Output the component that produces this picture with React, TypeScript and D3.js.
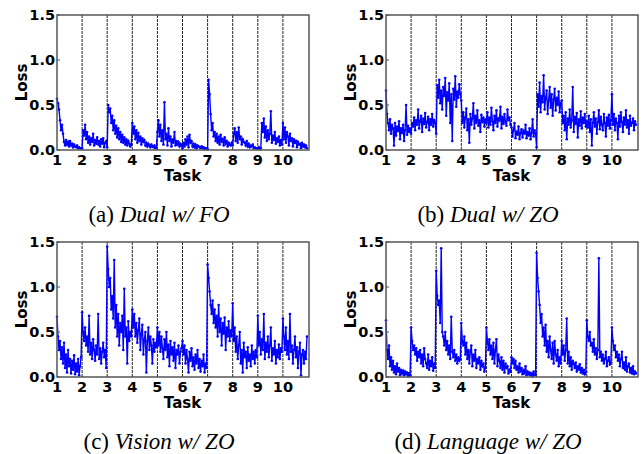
import React from "react";
import * as d3 from "d3";

// loss values, one inner array per task (25 steps each)
const dualFO: number[][] = [
  [.57,.52,.45,.33,.22,.28,.18,.09,.05,.11,.06,.09,.04,.10,.05,.07,.03,.06,.04,.03,.05,.02,.03,.02,.02],
  [.02,.22,.16,.28,.12,.20,.08,.15,.06,.13,.09,.18,.05,.11,.07,.14,.06,.10,.04,.12,.07,.13,.03,.08,.10],
  [.03,.50,.42,.46,.30,.38,.22,.33,.18,.27,.14,.24,.12,.20,.09,.17,.08,.14,.06,.12,.05,.10,.07,.04,.06],
  [.30,.18,.26,.12,.22,.08,.19,.10,.15,.06,.13,.09,.11,.05,.08,.04,.07,.05,.03,.06,.04,.03,.05,.02,.03],
  [.20,.33,.15,.28,.10,.22,.06,.53,.12,.18,.05,.24,.10,.15,.04,.12,.08,.20,.05,.10,.06,.09,.04,.07,.05],
  [.02,.08,.04,.12,.06,.15,.03,.17,.08,.10,.04,.07,.03,.06,.02,.05,.04,.03,.02,.04,.02,.03,.01,.02,.02],
  [.01,.78,.62,.40,.22,.30,.15,.20,.10,.18,.08,.15,.06,.17,.09,.12,.05,.14,.07,.10,.04,.08,.06,.05,.08],
  [.05,.18,.24,.10,.20,.08,.25,.12,.15,.06,.12,.09,.08,.05,.10,.04,.07,.03,.05,.04,.06,.02,.03,.02,.02],
  [.02,.03,.01,.02,.30,.20,.35,.14,.26,.10,.22,.12,.18,.43,.08,.16,.11,.20,.07,.13,.09,.15,.05,.11,.06],
  [.30,.12,.25,.08,.20,.15,.05,.18,.10,.13,.04,.12,.08,.10,.03,.09,.06,.07,.02,.08,.04,.06,.03,.05,.02],
];

const dualZO: number[][] = [
  [.66,.40,.30,.22,.34,.18,.28,.24,.05,.30,.16,.26,.21,.32,.12,.24,.19,.28,.10,.22,.50,.17,.27,.20,.24],
  [.18,.30,.26,.36,.22,.33,.28,.45,.24,.32,.38,.20,.35,.29,.41,.25,.31,.37,.22,.34,.28,.40,.26,.33,.30],
  [.18,.72,.58,.78,.52,.66,.45,.70,.60,.80,.38,.64,.55,.74,.30,.62,.10,.68,.56,.82,.48,.65,.58,.73,.62],
  [.55,.30,.42,.25,.36,.46,.22,.34,.08,.40,.28,.35,.52,.24,.38,.30,.44,.27,.33,.20,.39,.31,.36,.26,.34],
  [.30,.42,.25,.36,.28,.47,.32,.22,.38,.30,.44,.26,.35,.33,.48,.24,.37,.29,.40,.31,.27,.45,.33,.36,.28],
  [.25,.15,.22,.30,.13,.20,.17,.26,.12,.19,.23,.14,.21,.18,.28,.13,.20,.16,.24,.12,.19,.34,.15,.22,.18],
  [.03,.62,.48,.75,.42,.60,.53,.83,.45,.58,.66,.40,.55,.70,.47,.62,.38,.56,.68,.44,.58,.50,.65,.42,.52],
  [.55,.30,.38,.22,.42,.12,.35,.28,.45,.25,.33,.70,.20,.37,.29,.41,.14,.34,.27,.43,.24,.36,.30,.40,.26],
  [.32,.25,.38,.20,.34,.05,.30,.42,.26,.35,.18,.31,.44,.23,.37,.28,.22,.40,.30,.15,.36,.27,.39,.24,.33],
  [.62,.28,.40,.22,.35,.30,.12,.38,.26,.42,.31,.20,.36,.28,.44,.25,.33,.18,.38,.27,.30,.35,.22,.32,.28],
];

const visionZO: number[][] = [
  [.67,.45,.30,.40,.20,.33,.15,.38,.10,.25,.05,.30,.12,.20,.04,.18,.08,.24,.03,.15,.06,.20,.02,.12,.22],
  [.72,.50,.40,.55,.35,.45,.28,.68,.25,.38,.20,.42,.30,.18,.35,.25,.70,.20,.32,.15,.28,.38,.22,.30,.10],
  [1.45,1.20,1.00,1.10,.75,.90,.65,1.30,.55,.80,.45,.70,.35,.60,.50,.68,.30,.98,.45,.55,.15,.62,.40,.50,.45],
  [.75,.55,.70,.45,.60,.38,.52,.65,.30,.48,.58,.25,.42,.50,.05,.40,.55,.30,.45,.35,.15,.42,.28,.38,.33],
  [.55,.35,.50,.28,.45,.32,.20,.42,.30,.50,.22,.36,.12,.40,.25,.33,.18,.38,.10,.30,.25,.35,.15,.28,.32],
  [.40,.25,.35,.15,.30,.20,.05,.28,.18,.32,.12,.22,.08,.25,.15,.30,.10,.20,.06,.18,.12,.25,.05,.15,.10],
  [1.25,1.10,.95,.80,.70,.85,.60,.75,.55,.68,.45,.80,.50,.65,.35,.60,.48,.66,.30,.55,.45,.62,.40,.52,.45],
  [.82,.40,.55,.28,.45,.20,.35,.50,.15,.30,.05,.38,.22,.28,.10,.33,.18,.25,.12,.35,.20,.28,.15,.30,.22],
  [.68,.35,.50,.25,.42,.30,.70,.20,.38,.28,.45,.22,.35,.55,.18,.32,.25,.40,.15,.30,.22,.36,.20,.32,.28],
  [.65,.45,.30,.55,.25,.40,.20,.70,.28,.35,.15,.30,.45,.22,.33,.10,.28,.38,.02,.25,.30,.15,.28,.20,.45],
];

const languageZO: number[][] = [
  [.63,.30,.20,.35,.12,.22,.08,.18,.05,.12,.03,.15,.06,.10,.02,.08,.04,.07,.02,.06,.03,.05,.01,.04,.02],
  [.55,.40,.30,.35,.25,.32,.18,.28,.22,.30,.15,.25,.12,.32,.20,.15,.10,.25,.08,.18,.12,.22,.07,.15,.10],
  [1.18,.90,.80,.85,.60,1.43,.50,.45,.35,.50,.30,.40,.25,.35,.20,.67,.28,.22,.30,.18,.25,.15,.22,.18,.20],
  [.60,.40,.35,.45,.25,.38,.20,.30,.15,.28,.35,.12,.25,.18,.30,.10,.20,.15,.22,.08,.18,.12,.15,.06,.10],
  [.55,.40,.30,.42,.25,.35,.20,.38,.15,.30,.42,.12,.25,.18,.10,.22,.08,.18,.05,.15,.10,.12,.04,.08,.06],
  [.22,.15,.20,.10,.18,.08,.12,.05,.15,.06,.10,.03,.08,.04,.12,.02,.06,.03,.05,.02,.04,.01,.06,.02,.03],
  [1.38,1.10,.95,.80,.60,.70,.45,.55,.35,.58,.28,.40,.22,.45,.30,.20,.38,.15,.40,.25,.18,.30,.12,.22,.15],
  [.40,.25,.35,.18,.30,.65,.15,.28,.12,.22,.08,.18,.15,.10,.16,.06,.12,.08,.14,.05,.10,.04,.08,.03,.05],
  [.63,.45,.40,.50,.35,.38,.28,.42,.25,.32,.20,.30,1.32,.22,.28,.18,.25,.15,.20,.28,.12,.18,.22,.14,.16],
  [.55,.40,.30,.35,.22,.28,.18,.25,.12,.20,.28,.10,.16,.08,.22,.06,.12,.15,.05,.10,.04,.12,.03,.06,.04],
];

const tasks = [1, 2, 3, 4, 5, 6, 7, 8, 9, 10];
const yTicks = [0, 0.5, 1.0, 1.5];
const captions = [
  { tag: "(a) ", name: "Dual w/ FO" },
  { tag: "(b) ", name: "Dual w/ ZO" },
  { tag: "(c) ", name: "Vision w/ ZO" },
  { tag: "(d) ", name: "Language w/ ZO" },
];
const series = [dualFO, dualZO, visionZO, languageZO];

// panel placement
const layout = [
  { left: 57, top: 15 },
  { left: 386, top: 15 },
  { left: 57, top: 242 },
  { left: 386, top: 242 },
];
const plotW = 252;
const plotH = 135;

const tickFont = "'DejaVu Sans', sans-serif";

function Panel({ data, left, top, cap }) {
  const x = d3.scaleLinear().domain([1, 11.04]).range([0, plotW]);
  const y = d3.scaleLinear().domain([0, 1.5]).range([plotH, 0]);
  const pts = data.flatMap((vals, t) =>
    vals.map((v, i) => ({ x: tasks[t] + i / vals.length, y: v }))
  );
  const line = d3.line<any>().x(d => x(d.x)).y(d => y(d.y));
  return (
    <g transform={`translate(${left},${top})`}>
      {tasks.slice(1).map(t => (
        <line key={t} x1={x(t)} x2={x(t)} y1={0} y2={plotH}
          stroke="#222" strokeWidth={1} strokeDasharray="3,1" />
      ))}
      <path d={line(pts)} fill="none" stroke="#0000ff" strokeWidth={1.4} />
      {pts.map((d, i) => (
        <circle key={i} cx={x(d.x)} cy={y(d.y)} r={1.3} fill="#0000ff" />
      ))}
      <rect x={0} y={0} width={plotW} height={plotH} fill="none" stroke="#555" strokeWidth={1.5} />
      {yTicks.map(v => (
        <g key={v}>
          <line x1={0} x2={3} y1={y(v)} y2={y(v)} stroke="#555" />
          <text x={-2} y={y(v)} dy="0.36em" textAnchor="end" fontFamily={tickFont}
            fontWeight="bold" fontSize={14.5}>{v.toFixed(1)}</text>
        </g>
      ))}
      {tasks.map(t => (
        <text key={t} x={x(t)} y={plotH + 14.5} textAnchor="middle" fontFamily={tickFont}
          fontWeight="bold" fontSize={14.5}>{t}</text>
      ))}
      <text x={x(6)} y={plotH + 31} textAnchor="middle" fontFamily={tickFont}
        fontWeight="bold" fontSize={15}>Task</text>
      <text transform={`translate(-30,${plotH / 2}) rotate(-90)`} textAnchor="middle"
        fontFamily={tickFont} fontWeight="bold" fontSize={15}>Loss</text>
      <text x={plotW / 2 - 24} y={207} textAnchor="middle" fontFamily="'Liberation Serif', serif"
        fontSize={23}>
        {cap.tag}<tspan fontStyle="italic">{cap.name}</tspan>
      </text>
    </g>
  );
}

export default function App() {
  return (
    <svg width={644} height={454} style={{ position: "absolute", left: 0, top: 0, background: "#fff" }}>
      {series.map((s, k) => (
        <Panel key={k} data={s} left={layout[k].left} top={layout[k].top} cap={captions[k]} />
      ))}
    </svg>
  );
}
